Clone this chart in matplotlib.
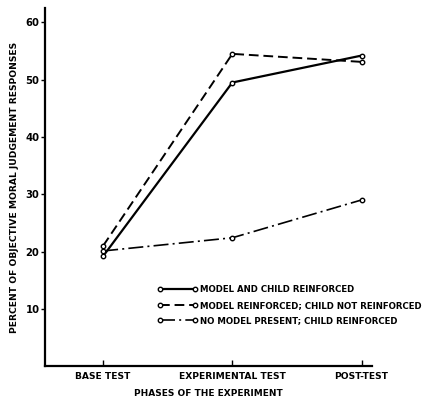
import matplotlib
matplotlib.use("Agg")
import matplotlib.pyplot as plt

# --- Données ---
phases = ["BASE TEST", "EXPERIMENTAL TEST", "POST-TEST"]
model_child = [19.2, 49.5, 54.2]
model_only = [21.0, 54.5, 53.1]
no_model = [20.1, 22.4, 29.0]
labels = [
    "MODEL AND CHILD REINFORCED",
    "MODEL REINFORCED; CHILD NOT REINFORCED",
    "NO MODEL PRESENT; CHILD REINFORCED",
]
yticks = [10, 20, 30, 40, 50, 60]

plt.rcParams["font.family"] = ["DejaVu Sans"]
plt.rcParams["font.weight"] = "bold"

fig = plt.figure(figsize=(4.37, 4.01), dpi=100)
ax = fig.add_axes([0.103, 0.087, 0.748, 0.893])

x = [1, 2, 3]
common = dict(color="black", marker="o", ms=3.2, mfc="white", mew=1.0)
ax.plot(x, model_child, ls="-", lw=1.6, label=labels[0], **common)
ax.plot(x, model_only, ls=(0, (5, 2.5)), lw=1.4, label=labels[1], **common)
ax.plot(x, no_model, ls=(0, (9, 2.5, 1.2, 2.5)), lw=1.2, label=labels[2], **common)

ax.set_xlim(0.55, 3.08)
ax.set_ylim(0, 62.5)
ax.set_xticks(x)
ax.set_xticklabels(phases, fontsize=6.6, fontweight="bold")
ax.set_yticks(yticks)
ax.set_yticklabels([str(v) for v in yticks], fontsize=7.2, fontweight="bold")
ax.tick_params(axis="x", direction="in", length=4, width=1, pad=4)
ax.tick_params(axis="y", direction="out", length=3, width=1, pad=1)

for s in ("top", "right"):
    ax.spines[s].set_visible(False)
for s in ("left", "bottom"):
    ax.spines[s].set_linewidth(1.6)

ax.set_xlabel("PHASES OF THE EXPERIMENT", fontsize=6.5, fontweight="bold", labelpad=6)
ax.set_ylabel("PERCENT OF OBJECTIVE MORAL JUDGEMENT RESPONSES",
              fontsize=6.6, fontweight="bold", labelpad=5)

leg = ax.legend(loc="center left", bbox_to_anchor=(0.345, 0.17), frameon=False,
                fontsize=6.25, numpoints=2, handlelength=4.6, handletextpad=0.25,
                labelspacing=0.75, borderpad=0, borderaxespad=0)

fig.savefig("out.png", dpi=100)
